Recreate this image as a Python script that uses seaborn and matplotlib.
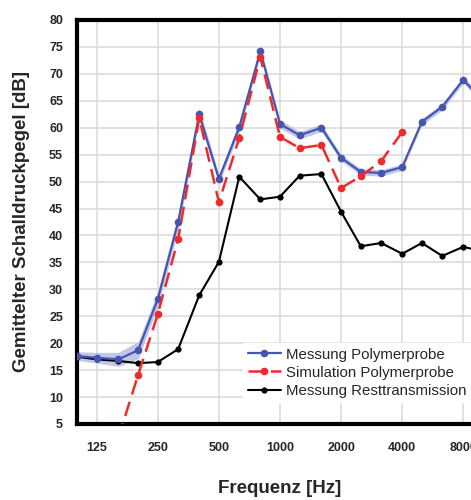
import numpy as np
import pandas as pd
import matplotlib
matplotlib.use("Agg")
import matplotlib.pyplot as plt
import seaborn as sns

# Third-octave band centre frequencies [Hz]
freq_mess = [100, 125, 160, 200, 250, 315, 400, 500, 630, 800, 1000, 1250, 1600,
             2000, 2500, 3150, 4000, 5000, 6300, 8000, 10000]
mess_poly = [17.6, 17.3, 17.0, 18.7, 28.2, 42.5, 62.5, 50.5, 60.1, 74.2, 60.7, 58.6, 60.0,
             54.4, 51.8, 51.6, 52.7, 61.1, 63.9, 68.9, 65.0]
mess_spread = [0.8, 1.0, 1.3, 1.6, 1.4, 1.5, 1.2, 0.8, 1.0, 0.8, 0.8, 0.7, 0.7,
               0.6, 0.6, 0.6, 0.6, 0.6, 0.6, 0.6, 0.6]

freq_sim = [160, 200, 250, 315, 400, 500, 630, 800, 1000, 1250, 1600, 2000, 2500, 3150, 4000]
sim_poly = [2.5, 14.1, 25.4, 39.3, 61.8, 46.2, 58.1, 73.1, 58.3, 56.2, 56.8, 48.8, 51.0, 53.8, 59.2]

freq_rest = freq_mess
mess_rest = [17.5, 17.0, 16.7, 16.3, 16.5, 18.9, 28.9, 35.1, 50.9, 46.7, 47.2, 51.1, 51.4,
             44.4, 38.0, 38.6, 36.6, 38.6, 36.2, 37.9, 37.0]

xtick_vals = [125, 250, 500, 1000, 2000, 4000, 8000]
xtick_labels = ["125", "250", "500", "1000", "2000", "4000", "8000"]
ytick_vals = list(range(5, 85, 5))

labels = ["Messung Polymerprobe", "Simulation Polymerprobe", "Messung Resttransmission"]

sns.set_style("white")
plt.rcParams["font.family"] = ["Liberation Sans", "DejaVu Sans"]

BLUE = "#4556b0"
RED = "#ee2b2b"

fig = plt.figure(figsize=(4.71, 5.0), dpi=100)
ax = fig.add_axes([77 / 471, 76 / 500, (483 - 77) / 471, (424 - 20) / 500])

lo = np.array(mess_poly) - np.array(mess_spread)
hi = np.array(mess_poly) + np.array(mess_spread)
ax.fill_between(freq_mess, lo, hi, color="#aeb3e2", alpha=0.75, lw=0, zorder=2)

sns.lineplot(x=freq_mess, y=mess_poly, ax=ax, color=BLUE, lw=1.6, marker="o",
             markersize=5.5, markeredgewidth=0, label=labels[0], zorder=4)
sns.lineplot(x=freq_sim, y=sim_poly, ax=ax, color=RED, lw=1.8, marker="o",
             markersize=5.5, markeredgewidth=0, linestyle=(0, (6, 3)),
             label=labels[1], zorder=5)
sns.lineplot(x=freq_rest, y=mess_rest, ax=ax, color="black", lw=1.5, marker="o",
             markersize=4.5, markeredgewidth=0, label=labels[2], zorder=3)

ax.set_xscale("log")
ax.set_xlim(100, 10000)
ax.set_ylim(5, 80)
ax.xaxis.set_minor_locator(matplotlib.ticker.NullLocator())
ax.set_xticks(xtick_vals)
ax.set_xticklabels(xtick_labels)
ax.set_yticks(ytick_vals)
ax.tick_params(axis="x", length=0, pad=13, labelsize=9)
ax.tick_params(axis="y", length=0, pad=10, labelsize=9)
for t in ax.get_xticklabels() + ax.get_yticklabels():
    t.set_fontweight("bold")

ax.grid(True, color="#d8d8d8", lw=1.1, zorder=0)
ax.set_axisbelow(True)
for s in ["left", "top", "bottom"]:
    ax.spines[s].set_linewidth(3)
    ax.spines[s].set_color("black")
ax.spines["right"].set_visible(False)

ax.set_xlabel("Frequenz [Hz]", fontsize=13.5, fontweight="bold", labelpad=19)
ax.set_ylabel("Gemittelter Schalldruckpegel [dB]", fontsize=13.5, fontweight="bold", labelpad=14)

handles, _ = ax.get_legend_handles_labels()
leg = ax.legend(handles, labels, loc="upper left",
                bbox_to_anchor=(243 / 471, 1 - 343 / 500), bbox_transform=fig.transFigure,
                fontsize=10.8, frameon=True, fancybox=False, framealpha=1,
                edgecolor="white", borderpad=0.3, labelspacing=0.28,
                handlelength=2.2, handletextpad=0.35, borderaxespad=0)
leg.set_zorder(10)

fig.savefig("out.png", dpi=100)
